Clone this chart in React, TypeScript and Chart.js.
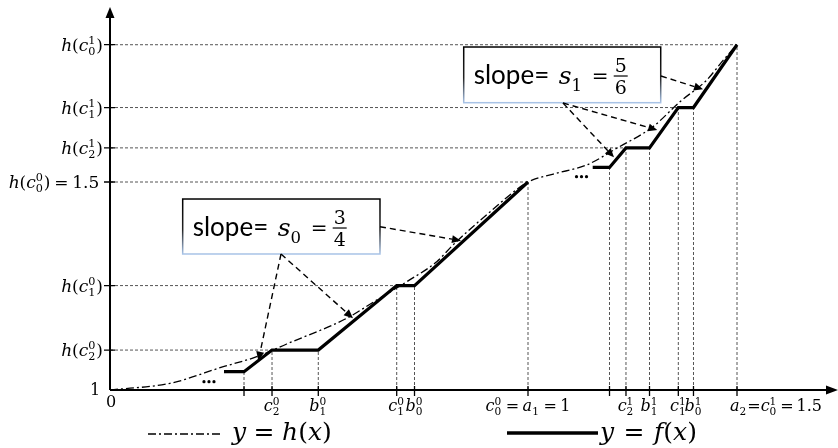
import React, { useEffect, useRef } from 'react';
import { Chart, registerables } from 'chart.js';

Chart.register(...registerables);

// ---------- data (value units: x = argument, y = function value) ----------
const hX = [0, 0.1435, 0.271, 0.351, 0.4227, 0.5663, 0.638, 0.7098, 0.7816, 0.8206, 0.909, 1, 1.0605, 1.1404, 1.2122, 1.299, 1.3636, 1.4275, 1.4672, 1.5];
const hY = [1, 1.016, 1.056, 1.08, 1.1106, 1.1724, 1.2163, 1.2603, 1.3084, 1.3486, 1.428, 1.5, 1.519, 1.541, 1.581, 1.633, 1.693, 1.745, 1.793, 1.83];

const fX = [0.2727, 0.3206, 0.3876, 0.4983, 0.6859, 0.7285, 1, 1.08, 1.1548, 1.195, 1.2344, 1.2907, 1.3596, 1.3959, 1.5];
const fY: (number | null)[] = [1.044, 1.044, 1.096, 1.096, 1.251, 1.251, 1.5, null, 1.535, 1.535, 1.582, 1.582, 1.679, 1.679, 1.83];

const xTickVals = [0.3206, 0.3876, 0.4983, 0.6859, 0.7285, 1, 1.195, 1.2344, 1.2907, 1.3596, 1.3959, 1.5];
const xTickLabels = ['', 'c_2^0', 'b_1^0', 'c_1^0', 'b_0^0', 'c_0^0 = a_1 = 1', '', 'c_2^1', 'b_1^1', 'c_1^1', 'b_0^1', 'a_2=c_0^1 = 1.5'];
const xGuideTop = [1.044, 1.096, 1.096, 1.251, 1.251, 1.5, 1.535, 1.582, 1.582, 1.679, 1.679, 1.83];

const yTickVals = [1.096, 1.251, 1.5, 1.582, 1.679, 1.83];
const yTickLabels = ['h(c_2^0)', 'h(c_1^0)', 'h(c_0^0) = 1.5 ', 'h(c_2^1)', 'h(c_1^1)', 'h(c_0^1)'];
const yGuideEnd = [0.3876, 0.6859, 1, 1.2344, 1.3596, 1.5];

const slopeLabels = ['s_0', 's_1'];
const slopeNum = ['3', '5'];
const slopeDen = ['4', '6'];
const legendLabels = ['y = h(x)', 'y = f(x)'];

// ---------- math text helpers ----------
type Seg = { t: string; it: boolean; sup?: string; sub?: string };
const MF = '"DejaVu Serif", "Liberation Serif", serif';
const SF = 'Lato, "Open Sans", "Liberation Sans", sans-serif';
const mfont = (size: number, it: boolean) => `${it ? 'italic ' : ''}${size}px ${MF}`;

function parseMath(s: string): Seg[] {
  const out: Seg[] = [];
  for (let i = 0; i < s.length; i++) {
    const c = s[i];
    if ((c === '_' || c === '^') && out.length) {
      const v = s[i + 1];
      i++;
      if (c === '_') out[out.length - 1].sub = v;
      else out[out.length - 1].sup = v;
    } else out.push({ t: c, it: /[a-z]/.test(c) });
  }
  return out;
}

const SCR = 0.66;

function segW(ctx: CanvasRenderingContext2D, g: Seg, size: number, spaceEm: number) {
  let w: number;
  if (g.t === ' ') w = size * spaceEm;
  else {
    ctx.font = mfont(size, g.it);
    w = ctx.measureText(g.t).width;
  }
  if (g.sup || g.sub) {
    ctx.font = mfont(size * SCR, false);
    const a = g.sup ? ctx.measureText(g.sup).width : 0;
    const b = g.sub ? ctx.measureText(g.sub).width : 0;
    w += Math.max(a, b) + 1;
  }
  return w;
}

function drawMath(
  ctx: CanvasRenderingContext2D,
  s: string,
  x: number,
  y: number,
  size: number,
  align: 'left' | 'center' | 'right',
  spaceEm = 0.22
) {
  const segs = parseMath(s);
  const w = segs.reduce((acc, g) => acc + segW(ctx, g, size, spaceEm), 0);
  let cx = align === 'center' ? x - w / 2 : align === 'right' ? x - w : x;
  ctx.textAlign = 'left';
  ctx.textBaseline = 'alphabetic';
  for (const g of segs) {
    let gw: number;
    if (g.t === ' ') gw = size * spaceEm;
    else {
      ctx.font = mfont(size, g.it);
      ctx.fillText(g.t, cx, y);
      gw = ctx.measureText(g.t).width;
    }
    cx += gw;
    if (g.sup || g.sub) {
      ctx.font = mfont(size * SCR, false);
      const a = g.sup ? ctx.measureText(g.sup).width : 0;
      const b = g.sub ? ctx.measureText(g.sub).width : 0;
      if (g.sup) ctx.fillText(g.sup, cx, y - size * 0.4);
      if (g.sub) ctx.fillText(g.sub, cx, y + size * 0.26);
      cx += Math.max(a, b) + 1;
    }
  }
  return w;
}

function arrow(ctx: CanvasRenderingContext2D, x1: number, y1: number, x2: number, y2: number) {
  const ang = Math.atan2(y2 - y1, x2 - x1);
  const L = 9;
  const bx = x2 - L * Math.cos(ang);
  const by = y2 - L * Math.sin(ang);
  ctx.save();
  ctx.strokeStyle = '#000';
  ctx.lineWidth = 1.4;
  ctx.setLineDash([6, 4]);
  ctx.beginPath();
  ctx.moveTo(x1, y1);
  ctx.lineTo(bx, by);
  ctx.stroke();
  ctx.setLineDash([]);
  ctx.fillStyle = '#000';
  ctx.beginPath();
  ctx.moveTo(x2, y2);
  ctx.lineTo(bx + 4 * Math.sin(ang), by - 4 * Math.cos(ang));
  ctx.lineTo(bx - 4 * Math.sin(ang), by + 4 * Math.cos(ang));
  ctx.closePath();
  ctx.fill();
  ctx.restore();
}

const diagramPlugin = {
  id: 'diagram',
  afterDatasetsDraw(chart: any) {
    const ctx: CanvasRenderingContext2D = chart.ctx;
    const xs = chart.scales.x;
    const ys = chart.scales.y;
    const X = (v: number) => xs.getPixelForValue(v);
    const Y = (v: number) => ys.getPixelForValue(v);
    const ox = X(0);
    const oy = Y(1);
    ctx.save();

    // axes
    ctx.strokeStyle = '#000';
    ctx.fillStyle = '#000';
    ctx.lineWidth = 2;
    ctx.setLineDash([]);
    ctx.beginPath();
    ctx.moveTo(ox, oy);
    ctx.lineTo(ox, 16);
    ctx.moveTo(ox, oy);
    ctx.lineTo(828, oy);
    ctx.stroke();
    ctx.beginPath();
    ctx.moveTo(ox, 7);
    ctx.lineTo(ox - 4.5, 18);
    ctx.lineTo(ox + 4.5, 18);
    ctx.closePath();
    ctx.fill();
    ctx.beginPath();
    ctx.moveTo(838, oy);
    ctx.lineTo(826, oy - 4.5);
    ctx.lineTo(826, oy + 4.5);
    ctx.closePath();
    ctx.fill();

    // ticks
    ctx.lineWidth = 1.3;
    ctx.beginPath();
    yTickVals.forEach((v) => {
      ctx.moveTo(ox - 6, Y(v));
      ctx.lineTo(ox + 5, Y(v));
    });
    xTickVals.forEach((v) => {
      ctx.moveTo(X(v), oy - 4);
      ctx.lineTo(X(v), oy + 6);
    });
    ctx.stroke();

    // y labels
    yTickLabels.forEach((s, i) => drawMath(ctx, s, ox - 7, Y(yTickVals[i]) + 6, 17, 'right'));
    // x labels
    xTickLabels.forEach((s, i) => {
      if (!s) return;
      const last = i === xTickLabels.length - 1;
      drawMath(ctx, s, last ? X(xTickVals[i]) - 7 : X(xTickVals[i]), 411, 16, last ? 'left' : 'center', last ? 0.18 : 0.22);
    });
    ctx.font = `16px ${MF}`;
    ctx.textAlign = 'center';
    ctx.fillText('0', ox + 1, 407);
    ctx.fillText('1', ox - 15, 395);

    // ellipses
    const dots = [
      [0.2368, 1.02],
      [1.128, 1.5127],
    ];
    dots.forEach(([dx, dy]) => {
      for (let k = -1; k <= 1; k++) {
        ctx.beginPath();
        ctx.arc(X(dx) + k * 5, Y(dy), 1.6, 0, Math.PI * 2);
        ctx.fill();
      }
    });

    // boxes
    const boxes = [
      { l: 0.1739, r: 0.6459, t: 1.4591, b: 1.3269 },
      { l: 0.8462, r: 1.3175, t: 1.8245, b: 1.6906 },
    ];
    boxes.forEach((bx, i) => {
      const l = X(bx.l), r = X(bx.r), t = Y(bx.t), b = Y(bx.b);
      ctx.fillStyle = '#fff';
      ctx.fillRect(l, t, r - l, b - t);
      const gr = ctx.createLinearGradient(0, t, 0, b);
      gr.addColorStop(0, '#000');
      gr.addColorStop(0.55, '#222');
      gr.addColorStop(1, '#a9c4e8');
      ctx.strokeStyle = gr;
      ctx.lineWidth = 1.5;
      ctx.strokeRect(l, t, r - l, b - t);
      ctx.fillStyle = '#000';
      const base = t + 37;
      ctx.font = `26px ${SF}`;
      ctx.textAlign = 'left';
      ctx.fillText('slope=', l + 10, base);
      drawMath(ctx, slopeLabels[i], l + 95, base, 25, 'left');
      ctx.font = mfont(20, false);
      ctx.fillText('=', l + 128, base - 1);
      const fc = l + 157;
      const bar = base - 8;
      ctx.font = mfont(19, false);
      ctx.textAlign = 'center';
      ctx.fillText(slopeNum[i], fc, bar - 4);
      ctx.fillText(slopeDen[i], fc, bar + 18);
      ctx.strokeStyle = '#000';
      ctx.lineWidth = 1.2;
      ctx.beginPath();
      ctx.moveTo(fc - 7, bar);
      ctx.lineTo(fc + 7, bar);
      ctx.stroke();
    });

    // arrows
    const arrows = [
      [0.4091, 1.3269, 0.3548, 1.0704],
      [0.4091, 1.3269, 0.5813, 1.1724],
      [0.6459, 1.3925, 0.8397, 1.3589],
      [1.3182, 1.7548, 1.4187, 1.7228],
      [1.0837, 1.6899, 1.2057, 1.5594],
      [1.0837, 1.6899, 1.3093, 1.625],
    ];
    arrows.forEach(([a, b, c, d]) => arrow(ctx, X(a), Y(b), X(c), Y(d)));

    // legend
    ctx.strokeStyle = '#000';
    ctx.lineWidth = 1.3;
    ctx.setLineDash([8, 3, 2, 3]);
    ctx.beginPath();
    ctx.moveTo(148, 434);
    ctx.lineTo(222, 434);
    ctx.stroke();
    ctx.setLineDash([]);
    ctx.lineWidth = 3.5;
    ctx.beginPath();
    ctx.moveTo(507, 433);
    ctx.lineTo(598, 433);
    ctx.stroke();
    ctx.fillStyle = '#000';
    drawMath(ctx, legendLabels[0], 232, 440, 25, 'left', 0.3);
    drawMath(ctx, legendLabels[1], 600, 440, 25, 'left', 0.38);

    ctx.restore();
  },
};

export default function App() {
  const ref = useRef<HTMLCanvasElement>(null);
  useEffect(() => {
    const canvas = ref.current!;
    const guides: { x: number; y: number | null }[] = [];
    yTickVals.forEach((v, i) => {
      guides.push({ x: 0, y: v }, { x: yGuideEnd[i], y: v }, { x: yGuideEnd[i], y: null });
    });
    xTickVals.forEach((v, i) => {
      guides.push({ x: v, y: 1 }, { x: v, y: xGuideTop[i] }, { x: v, y: null });
    });
    const chart = new Chart(canvas, {
      type: 'line',
      data: {
        datasets: [
          {
            label: 'f',
            data: fX.map((x, i) => ({ x, y: fY[i] })) as any,
            borderColor: '#000',
            borderWidth: 3.2,
            pointRadius: 0,
            tension: 0,
            spanGaps: false,
            order: 0,
          },
          {
            label: 'h',
            data: hX.map((x, i) => ({ x, y: hY[i] })),
            borderColor: '#000',
            borderWidth: 1.3,
            borderDash: [8, 3, 2, 3],
            pointRadius: 0,
            cubicInterpolationMode: 'monotone',
            order: 1,
          },
          {
            label: 'guides',
            data: guides as any,
            borderColor: '#555',
            borderWidth: 1,
            borderDash: [3, 2],
            pointRadius: 0,
            tension: 0,
            spanGaps: false,
            order: 2,
          },
        ],
      },
      options: {
        animation: false,
        responsive: false,
        maintainAspectRatio: false,
        layout: { padding: 0 },
        events: [],
        plugins: { legend: { display: false }, tooltip: { enabled: false } },
        scales: {
          x: { type: 'linear', display: false, min: -110 / 418, max: 728 / 418 },
          y: { type: 'linear', display: false, min: 1 - 58 / 416, max: 1 + 390 / 416 },
        },
      },
      plugins: [diagramPlugin],
    });
    return () => chart.destroy();
  }, []);
  return (
    <div style={{ position: 'absolute', left: 0, top: 0, width: 838, height: 448, background: '#fff' }}>
      <canvas ref={ref} width={838} height={448} style={{ display: 'block' }} />
    </div>
  );
}
